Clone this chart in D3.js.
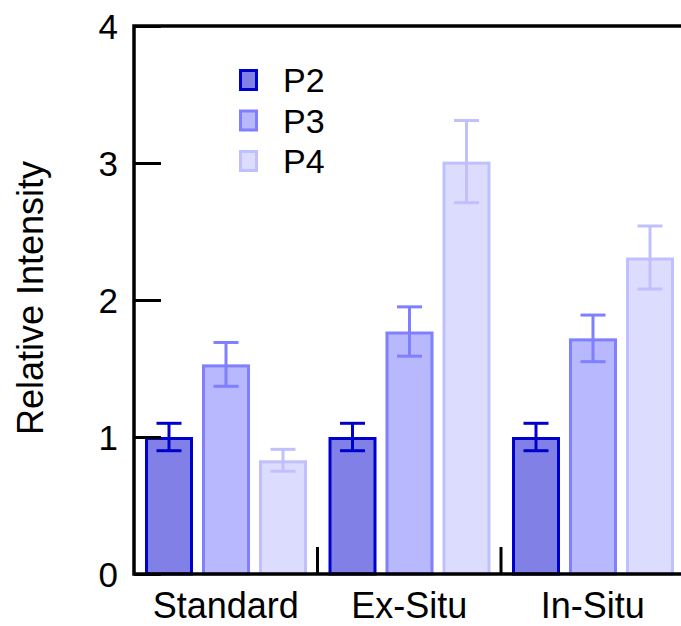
<!DOCTYPE html>
<html>
<head>
<meta charset="utf-8">
<script src="https://cdn.jsdelivr.net/npm/d3@7"></script>
<style>
  html, body { margin: 0; padding: 0; background: #fff; }
  svg { display: block; font-family: "Liberation Sans", Arial, sans-serif; }
</style>
</head>
<body>
<svg id="chart" width="681" height="626"></svg>
<script>
// ---- data ----
const categories = ["Standard", "Ex-Situ", "In-Situ"];
const seriesNames = ["P2", "P3", "P4"];
const p2Values = [1.0, 1.0, 1.0];
const p3Values = [1.53, 1.77, 1.72];
const p4Values = [0.83, 3.01, 2.31];
const p2Errors = [0.10, 0.10, 0.10];
const p3Errors = [0.16, 0.18, 0.17];
const p4Errors = [0.08, 0.30, 0.23];
const yTicks = [0, 1, 2, 3, 4];
const yTitle = "Relative Intensity";

const fills = ["#8080e6", "#b8b8ff", "#dcdcff"];
const strokes = ["#0000cc", "#7f7fff", "#c0c0ff"];

(function () {
const valuesBySeries = [p2Values, p3Values, p4Values];
const errorsBySeries = [p2Errors, p3Errors, p4Errors];
const rows = [];
categories.forEach((c, ci) => {
  seriesNames.forEach((s, si) => {
    rows.push({ cat: c, series: s, si, value: valuesBySeries[si][ci], err: errorsBySeries[si][ci] });
  });
});

const svg = d3.select("#chart");
const mLeft = 134, mTop = 26, mBottom = 574, groupW = 183.5;
const mRight = mLeft + categories.length * groupW;

const x = d3.scaleBand().domain(categories).range([mLeft, mRight]).padding(0);
const xs = d3.scaleBand().domain(seriesNames).range([11, 173]).paddingInner(9 / 57).paddingOuter(0);
const y = d3.scaleLinear().domain([0, 4]).range([mBottom, mTop]);

const sw = 3;
// bars
svg.append("g").selectAll("rect").data(rows).join("rect")
  .attr("x", d => x(d.cat) + xs(d.series) + sw / 2)
  .attr("width", xs.bandwidth() - sw)
  .attr("y", d => y(d.value) + sw / 2)
  .attr("height", d => y(0) - y(d.value) - sw / 2)
  .attr("fill", d => fills[d.si])
  .attr("stroke", d => strokes[d.si])
  .attr("stroke-width", sw);

// error bars
const eb = svg.append("g").selectAll("g").data(rows).join("g")
  .attr("stroke", d => strokes[d.si])
  .attr("stroke-width", 3)
  .attr("fill", "none");
const cx = d => x(d.cat) + xs(d.series) + xs.bandwidth() / 2;
const capW = 12.5;
eb.append("line")
  .attr("x1", cx).attr("x2", cx)
  .attr("y1", d => y(d.value + d.err)).attr("y2", d => y(d.value - d.err));
eb.append("line")
  .attr("x1", d => cx(d) - capW).attr("x2", d => cx(d) + capW)
  .attr("y1", d => y(d.value + d.err)).attr("y2", d => y(d.value + d.err));
eb.append("line")
  .attr("x1", d => cx(d) - capW).attr("x2", d => cx(d) + capW)
  .attr("y1", d => y(d.value - d.err)).attr("y2", d => y(d.value - d.err));

// frame
const axisW = 3.5;
svg.append("rect")
  .attr("x", mLeft).attr("y", mTop)
  .attr("width", mRight - mLeft).attr("height", mBottom - mTop)
  .attr("fill", "none").attr("stroke", "#000").attr("stroke-width", axisW);

// y axis ticks (inward) + labels
const yAxis = d3.axisLeft(y).tickValues(yTicks).tickFormat(d3.format("d")).tickSizeInner(-27).tickSizeOuter(0).tickPadding(16);
const gy = svg.append("g").attr("transform", `translate(${mLeft},0)`).call(yAxis);
gy.select(".domain").remove();
gy.selectAll(".tick line").attr("stroke", "#000").attr("stroke-width", 3);
gy.selectAll(".tick text").attr("font-size", 35).attr("fill", "#000")
  .attr("font-family", "Liberation Sans, Arial, sans-serif").attr("dy", "0.36em");

// x axis labels
const xAxis = d3.axisBottom(x).tickSize(0).tickPadding(0);
const gx = svg.append("g").attr("transform", `translate(0,${mBottom})`).call(xAxis);
gx.select(".domain").remove();
gx.selectAll(".tick text").attr("font-size", 36).attr("fill", "#000")
  .attr("font-family", "Liberation Sans, Arial, sans-serif")
  .attr("dy", null).attr("y", 44).attr("dx", "0");

// group dividers (inward ticks on x axis)
svg.append("g").selectAll("line").data(categories.slice(1)).join("line")
  .attr("x1", d => x(d)).attr("x2", d => x(d))
  .attr("y1", mBottom).attr("y2", mBottom - 27)
  .attr("stroke", "#000").attr("stroke-width", 3);

// y title
svg.append("text")
  .attr("transform", `translate(43,298) rotate(-90)`)
  .attr("text-anchor", "middle")
  .attr("font-size", 36)
  .attr("fill", "#000")
  .text(yTitle);

// legend
const legend = svg.append("g").selectAll("g").data(seriesNames).join("g")
  .attr("transform", (d, i) => `translate(239,${80 + i * 40.5})`);
legend.append("rect")
  .attr("x", 1.5).attr("y", -9.5).attr("width", 16).attr("height", 19)
  .attr("fill", (d, i) => fills[i]).attr("stroke", (d, i) => strokes[i]).attr("stroke-width", 3);
legend.append("text")
  .attr("x", 44).attr("y", 0).attr("dy", "0.36em")
  .attr("font-size", 34).attr("fill", "#000")
  .text(d => d);
})();
</script>
</body>
</html>
